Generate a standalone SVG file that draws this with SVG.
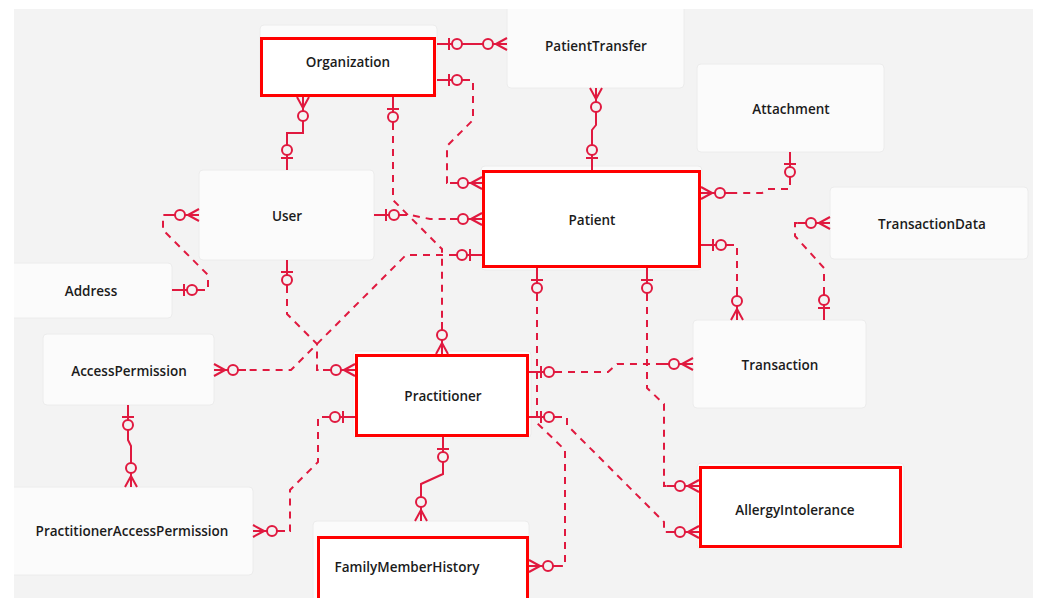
<svg xmlns="http://www.w3.org/2000/svg" width="1040" height="598" viewBox="0 0 1040 598">
  <style>
    .card { fill: #fbfbfb; stroke: #ececec; stroke-width: 1; }
    .key { fill: #ffffff; stroke: #ff0000; stroke-width: 3; }
    .label { font-family: "Open Sans", "Noto Sans", sans-serif; font-weight: 600; font-size: 13.5px; fill: #1b1b1b; text-anchor: middle; dominant-baseline: central; }
    .rel { fill: none; stroke: #e0193f; stroke-width: 2; stroke-dasharray: 7 6; }
    .rel.solid { stroke-dasharray: none; }
    .mk { fill: none; stroke: #e0193f; stroke-width: 2; }
    .mc { fill: #f3f3f3; stroke: #e0193f; stroke-width: 2; }
  </style>
  <defs>
    <clipPath id="canvas">
      <rect x="14" y="9" width="1019" height="589"/>
    </clipPath>
    <!-- zero-or-one end: bar nearest the entity, then a circle -->
    <marker id="zo" markerUnits="userSpaceOnUse" orient="auto-start-reverse" refX="0" refY="0" markerWidth="1" markerHeight="1" overflow="visible">
      <path class="mk" d="M-32,0H0M-12,-6V6"/>
      <circle class="mc" cx="-20" cy="0" r="5"/>
    </marker>
    <!-- zero-or-many end: crow's foot at the entity, then a circle -->
    <marker id="zm" markerUnits="userSpaceOnUse" orient="auto-start-reverse" refX="0" refY="0" markerWidth="1" markerHeight="1" overflow="visible">
      <path class="mk" d="M-32,0H0M-11,0L0,-6M-11,0L0,6"/>
      <circle class="mc" cx="-19" cy="0" r="5"/>
    </marker>
  </defs>

  <rect width="1040" height="598" fill="#ffffff"/>
  <rect x="14" y="9" width="1019" height="589" fill="#f3f3f3"/>

  <g clip-path="url(#canvas)">
    <g id="nodes">
      <g id="organization">
        <rect class="card" x="260" y="25" width="177" height="72" rx="4"/>
        <rect class="key" x="261.5" y="38.5" width="173" height="57"/>
        <text class="label" x="348" y="62">Organization</text>
      </g>
      <g id="patient-transfer">
        <rect class="card" x="507" y="2" width="177" height="86" rx="4"/>
        <text class="label" x="596" y="46">PatientTransfer</text>
      </g>
      <g id="attachment">
        <rect class="card" x="697" y="64" width="187" height="88" rx="4"/>
        <text class="label" x="791" y="109">Attachment</text>
      </g>
      <g id="patient">
        <rect class="card" x="481" y="166" width="221" height="104" rx="4"/>
        <rect class="key" x="483.5" y="171.5" width="216" height="95"/>
        <text class="label" x="592" y="220">Patient</text>
      </g>
      <g id="transaction-data">
        <rect class="card" x="830" y="187" width="198" height="72" rx="4"/>
        <text class="label" x="932" y="224">TransactionData</text>
      </g>
      <g id="user">
        <rect class="card" x="199" y="170" width="175" height="90" rx="4"/>
        <text class="label" x="287" y="216">User</text>
      </g>
      <g id="address">
        <rect class="card" x="6" y="263" width="166" height="55" rx="4"/>
        <text class="label" x="91" y="291">Address</text>
      </g>
      <g id="access-permission">
        <rect class="card" x="43" y="334" width="171" height="71" rx="4"/>
        <text class="label" x="129" y="371">AccessPermission</text>
      </g>
      <g id="transaction">
        <rect class="card" x="693" y="320" width="173" height="88" rx="4"/>
        <text class="label" x="780" y="365">Transaction</text>
      </g>
      <g id="practitioner">
        <rect class="card" x="353" y="351" width="178" height="87" rx="4"/>
        <rect class="key" x="356.5" y="355.5" width="171" height="80"/>
        <text class="label" x="443" y="396">Practitioner</text>
      </g>
      <g id="allergy-intolerance">
        <rect class="card" x="697" y="463" width="207" height="86" rx="4"/>
        <rect class="key" x="700.5" y="467.5" width="200" height="79"/>
        <text class="label" x="795" y="510">AllergyIntolerance</text>
      </g>
      <g id="practitioner-access-permission">
        <rect class="card" x="6" y="487" width="247" height="88" rx="4"/>
        <text class="label" x="132" y="531">PractitionerAccessPermission</text>
      </g>
      <g id="family-member-history">
        <rect class="card" x="313" y="521" width="216" height="90" rx="4"/>
        <rect class="key" x="318.5" y="537.5" width="209" height="70"/>
        <text class="label" x="407" y="567">FamilyMemberHistory</text>
      </g>
    </g>

    <g id="connectors" marker-start="url(#zo)" marker-end="url(#zm)">
      <!-- Organization – PatientTransfer -->
      <path class="rel solid" d="M437,44H507" marker-start="url(#zo)" marker-end="url(#zm)"/>
      <!-- Organization – Patient -->
      <path class="rel" d="M437,80H473V120L447,146V183H482" marker-start="url(#zo)" marker-end="url(#zm)"/>
      <!-- User – Organization -->
      <path class="rel solid" d="M287,170V133H303V97" marker-start="url(#zo)" marker-end="url(#zm)"/>
      <!-- Organization – Practitioner -->
      <path class="rel" d="M393,97V200L442,249V354" marker-start="url(#zo)" marker-end="url(#zm)"/>
      <!-- User – Patient -->
      <path class="rel" d="M374,215H410L430,219H482" marker-start="url(#zo)" marker-end="url(#zm)"/>
      <!-- Patient – AccessPermission -->
      <path class="rel" d="M482,255H406L291,370H214" marker-start="url(#zo)" marker-end="url(#zm)"/>
      <!-- User – Practitioner -->
      <path class="rel" d="M287,260V314L317,344V370H355" marker-start="url(#zo)" marker-end="url(#zm)"/>
      <!-- Practitioner – PractitionerAccessPermission -->
      <path class="rel" d="M355,417H318V462L290,490V531H253" marker-start="url(#zo)" marker-end="url(#zm)"/>
      <!-- AccessPermission – PractitionerAccessPermission -->
      <path class="rel solid" d="M128,405V440L131,446V487" marker-start="url(#zo)" marker-end="url(#zm)"/>
      <!-- Practitioner – FamilyMemberHistory -->
      <path class="rel solid" d="M443,437V474L421,484V521" marker-start="url(#zo)" marker-end="url(#zm)"/>
      <!-- Practitioner – Transaction -->
      <path class="rel" d="M529,372H608L617,364H693" marker-start="url(#zo)" marker-end="url(#zm)"/>
      <!-- Practitioner – AllergyIntolerance -->
      <path class="rel" d="M529,417H567V425L664,522V532H699" marker-start="url(#zo)" marker-end="url(#zm)"/>
      <!-- Patient – FamilyMemberHistory -->
      <path class="rel" d="M537,268V423L565,450V566H529" marker-start="url(#zo)" marker-end="url(#zm)"/>
      <!-- Patient – AllergyIntolerance -->
      <path class="rel" d="M647,268V388L664,404V486H699" marker-start="url(#zo)" marker-end="url(#zm)"/>
      <!-- Attachment – Patient -->
      <path class="rel" d="M790,152V189H768L762,193H701" marker-start="url(#zo)" marker-end="url(#zm)"/>
      <!-- Patient – Transaction -->
      <path class="rel" d="M701,245H737V320" marker-start="url(#zo)" marker-end="url(#zm)"/>
      <!-- Transaction – TransactionData -->
      <path class="rel" d="M824,320V268L795,236V223H830" marker-start="url(#zo)" marker-end="url(#zm)"/>
      <!-- Address – User -->
      <path class="rel" d="M172,290H208V275L163,230V215H199" marker-start="url(#zo)" marker-end="url(#zm)"/>
      <!-- Patient – PatientTransfer -->
      <path class="rel solid" d="M592,170V130L596,125V88" marker-start="url(#zo)" marker-end="url(#zm)"/>
    </g>
  </g>
</svg>
